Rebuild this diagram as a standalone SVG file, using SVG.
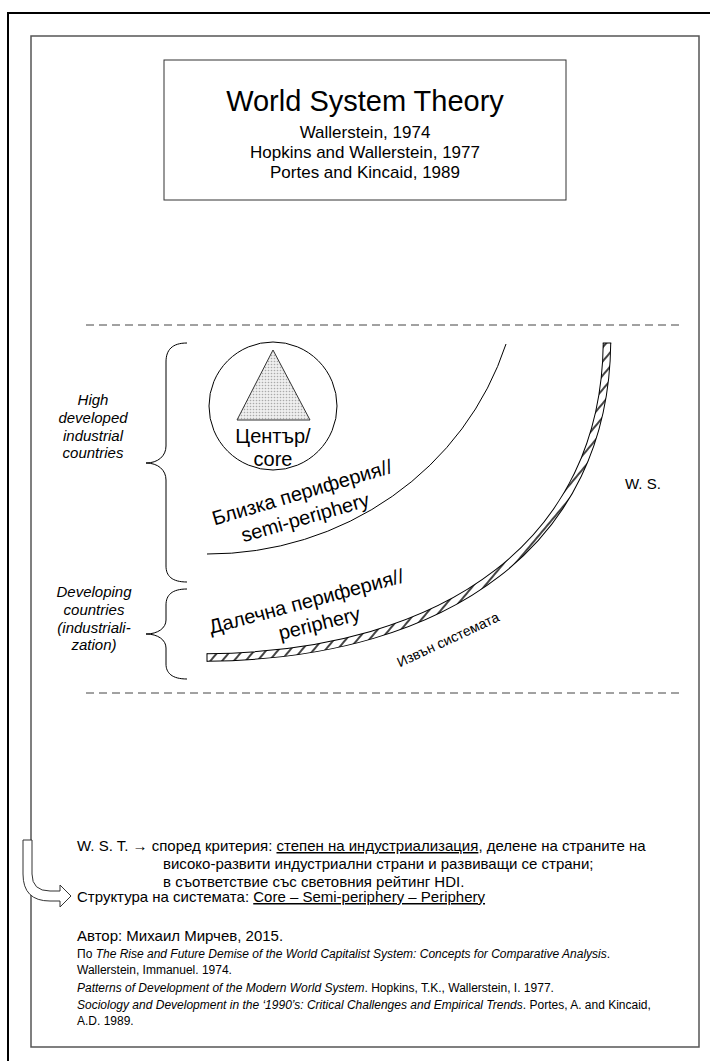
<svg xmlns="http://www.w3.org/2000/svg" width="710" height="1061" viewBox="0 0 710 1061">
<style>
text{font-family:"Liberation Sans",Arial,sans-serif;fill:#000}
.it{font-style:italic}
.lbl{font-size:15px;font-style:italic;text-anchor:middle}
.arc{fill:none;stroke:#000;stroke-width:1}
.dash{stroke:#444;stroke-width:1;stroke-dasharray:8 5}
.brace{fill:none;stroke:#000;stroke-width:1}
</style>
<defs>
<pattern id="dots" width="3" height="3" patternUnits="userSpaceOnUse">
<rect width="3" height="3" fill="#eee"/>
<circle cx="1.5" cy="1.5" r="0.8" fill="#aaa"/>
</pattern>
<pattern id="hatch" width="9" height="9" patternUnits="userSpaceOnUse" patternTransform="rotate(40)">
<rect width="9" height="9" fill="#fff"/>
<rect x="0" y="0" width="2" height="9" fill="#444"/>
</pattern>
</defs>
<rect width="710" height="1061" fill="#fff"/>
<rect x="8" y="13" width="720" height="1070" fill="none" stroke="#000" stroke-width="2"/>
<rect x="31" y="36" width="668" height="1011" fill="none" stroke="#555" stroke-width="1.5"/>

<g id="title">
<rect x="164" y="60" width="402" height="140" fill="#fff" stroke="#333" stroke-width="1"/>
<text x="365" y="111" font-size="29" text-anchor="middle">World System Theory</text>
<text x="365" y="138" font-size="17" text-anchor="middle">Wallerstein, 1974</text>
<text x="365" y="158" font-size="17" text-anchor="middle">Hopkins and Wallerstein, 1977</text>
<text x="365" y="178" font-size="17" text-anchor="middle">Portes and Kincaid, 1989</text>
</g>

<g id="separators">
<line class="dash" x1="86" y1="325" x2="682" y2="325"/>
<line class="dash" x1="86" y1="693" x2="682" y2="693"/>
</g>

<g id="braces">
<path class="brace" d="M187,343 C172,343 166,350 166,362 L166,446 C166,456 158,463 146,463 C158,463 166,470 166,480 L166,566 C166,576 172,582 187,582"/>
<path class="brace" d="M187,589 C172,589 166,595 166,605 L166,620 C166,628 158,634 146,634 C158,634 166,640 166,648 L166,664 C166,673 172,679 187,679"/>
</g>

<g id="high-label">
<text class="lbl" x="93" y="405">High</text>
<text class="lbl" x="93" y="423">developed</text>
<text class="lbl" x="93" y="441">industrial</text>
<text class="lbl" x="93" y="458">countries</text>
</g>
<g id="developing-label">
<text class="lbl" x="94" y="597">Developing</text>
<text class="lbl" x="94" y="615">countries</text>
<text class="lbl" x="94" y="633">(industriali-</text>
<text class="lbl" x="94" y="650">zation)</text>
</g>

<g id="core">
<circle cx="273" cy="406" r="64" fill="#fff" stroke="#000" stroke-width="1"/>
<polygon points="273,350 237,420 310,420" fill="url(#dots)" stroke="#333" stroke-width="1"/>
<text x="273" y="443" font-size="20" text-anchor="middle">Център/</text>
<text x="273" y="466" font-size="20" text-anchor="middle">core</text>
</g>

<g id="semi-periphery">
<path class="arc" d="M506,344 A312,300 0 0 1 207,554"/>
<text font-size="20" text-anchor="middle" transform="translate(304,499) rotate(-16.5)">Близка периферия//</text>
<text font-size="20" text-anchor="middle" transform="translate(307,524) rotate(-16)">semi-periphery</text>
</g>

<g id="periphery">
<path d="M607,343 C605,540 450,655 207,657.5" fill="none" stroke="#000" stroke-width="8.5"/>
<path d="M607,343 C605,540 450,655 207,657.5" fill="none" stroke="url(#hatch)" stroke-width="6.5"/>
<line x1="602.75" y1="343" x2="611.25" y2="343" stroke="#000" stroke-width="1"/>
<line x1="207" y1="653.2" x2="207" y2="661.8" stroke="#000" stroke-width="1"/>
<text font-size="20" text-anchor="middle" transform="translate(308,608) rotate(-15)">Далечна периферия//</text>
<text font-size="20" text-anchor="middle" transform="translate(321,630) rotate(-14)">periphery</text>
</g>

<g id="outside">
<text font-size="14" text-anchor="middle" transform="translate(450,644) rotate(-25)">Извън системата</text>
</g>
<g id="ws">
<text x="625" y="489" font-size="15">W. S.</text>
</g>

<g id="notes" font-size="15">
<text x="77" y="851">W. S. T. → според критерия: <tspan text-decoration="underline">степен на индустриализация</tspan>, делене на страните на</text>
<text x="163" y="869">високо-развити индустриални страни и развиващи се страни;</text>
<text x="163" y="887">в съответствие със световния рейтинг HDI.</text>
<path d="M23,840 L32,840 L32,874 Q32,891 50,891 L60,891 L60,885 L71,896 L60,907 L60,901 L50,901 Q23,901 23,874 Z" fill="#fff" stroke="#333" stroke-width="1"/>
<text x="77" y="902">Структура на системата: <tspan text-decoration="underline">Core – Semi-periphery – Periphery</tspan></text>
</g>

<g id="refs">
<text x="77" y="941" font-size="15">Автор: Михаил Мирчев, 2015.</text>
<text x="77" y="958" font-size="12">По <tspan class="it">The Rise and Future Demise of the World Capitalist System: Concepts for Comparative Analysis</tspan>.</text>
<text x="77" y="974" font-size="12">Wallerstein, Immanuel. 1974.</text>
<text x="77" y="992" font-size="12"><tspan class="it">Patterns of Development of the Modern World System</tspan>. Hopkins, T.K., Wallerstein, I. 1977.</text>
<text x="77" y="1009" font-size="12"><tspan class="it">Sociology and Development in the ‘1990’s: Critical Challenges and Empirical Trends</tspan>. Portes, A. and Kincaid,</text>
<text x="77" y="1025" font-size="12">A.D. 1989.</text>
</g>
</svg>
